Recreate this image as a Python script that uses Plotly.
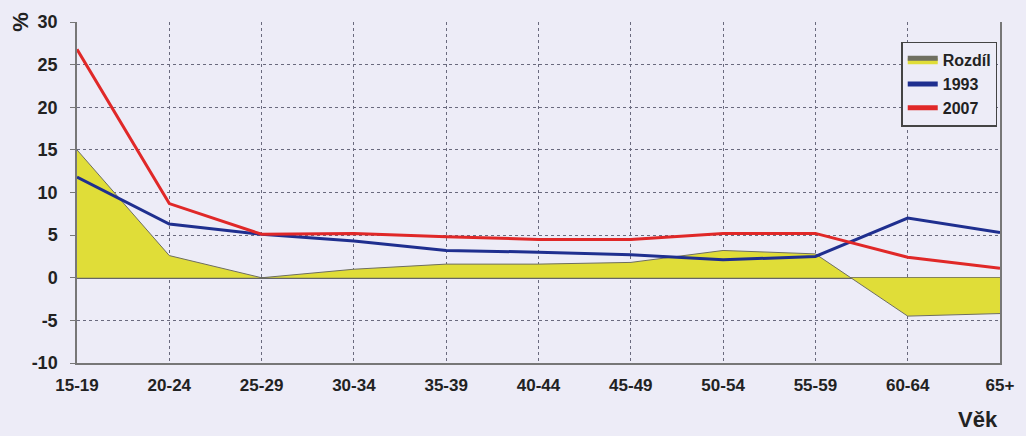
import plotly.graph_objects as go

# Age groups and percentage shares
vek = ["15-19", "20-24", "25-29", "30-34", "35-39", "40-44",
       "45-49", "50-54", "55-59", "60-64", "65+"]
rozdil = [15.0, 2.6, 0.0, 1.0, 1.6, 1.6, 1.8, 3.2, 2.8, -4.5, -4.2]
rok_1993 = [11.8, 6.3, 5.1, 4.3, 3.2, 3.0, 2.7, 2.1, 2.5, 7.0, 5.3]
rok_2007 = [26.8, 8.7, 5.1, 5.2, 4.8, 4.5, 4.5, 5.2, 5.2, 2.4, 1.1]

y_ticks = [-10, -5, 0, 5, 10, 15, 20, 25, 30]
y_tick_text = ["-10", "-5", "0", "5", "10", "15", "20", "25", "30"]

bg = "#edecf7"
fam = "Liberation Sans, Arial, sans-serif"
ink = "#222222"
bold17 = dict(family=fam, size=17, color=ink, weight="bold")
bold18 = dict(family=fam, size=18, color=ink, weight="bold")

fig = go.Figure()
fig.add_trace(go.Scatter(
    x=vek, y=rozdil, name="Rozdíl", mode="lines", fill="tozeroy",
    fillcolor="#e0dd38", line=dict(color="#6e6e60", width=1),
))
fig.add_trace(go.Scatter(
    x=vek, y=rok_1993, name="1993", mode="lines",
    line=dict(color="#1f2f8f", width=3),
))
fig.add_trace(go.Scatter(
    x=vek, y=rok_2007, name="2007", mode="lines",
    line=dict(color="#e02828", width=3),
))

fig.update_layout(
    width=1026, height=436,
    margin=dict(l=77, r=20, t=19, b=73),
    paper_bgcolor=bg, plot_bgcolor=bg,
    font=dict(family=fam, size=15, color=ink),
    showlegend=True,
    legend=dict(
        x=0.997, y=0.942, xanchor="right", yanchor="top",
        bgcolor=bg, bordercolor="#444444", borderwidth=1.5,
        font=dict(family=fam, size=16, color=ink, weight="bold"),
        tracegroupgap=0, itemsizing="constant",
    ),
    xaxis=dict(
        type="category", range=[0, 10],
        showgrid=True, griddash="dot", gridcolor="#6a6a7e", gridwidth=1,
        showline=True, linecolor="#777777", linewidth=1.5, mirror=False,
        ticks="", ticklabelstandoff=6,
        tickfont=bold17, zeroline=False,
    ),
    yaxis=dict(
        range=[-10, 30], tickvals=y_ticks, ticktext=y_tick_text,
        showgrid=True, griddash="dot", gridcolor="#6a6a7e", gridwidth=1,
        showline=True, linecolor="#777777", linewidth=1.5, mirror=True,
        ticks="outside", ticklen=5, tickcolor="#777777", ticklabelstandoff=9,
        zeroline=True, zerolinecolor="#666666", zerolinewidth=1.5,
        tickfont=bold18,
    ),
    annotations=[
        dict(text="%", xref="paper", yref="paper", x=-0.062, y=1.0,
             xanchor="center", yanchor="middle", showarrow=False, textangle=-90,
             font=dict(family=fam, size=22, color=ink, weight="bold")),
        dict(text="Věk", xref="paper", yref="paper", x=1.0, y=-0.166,
             xanchor="right", yanchor="middle", showarrow=False,
             font=dict(family=fam, size=22, color=ink, weight="bold")),
    ],
)

fig.write_html("out.html")
